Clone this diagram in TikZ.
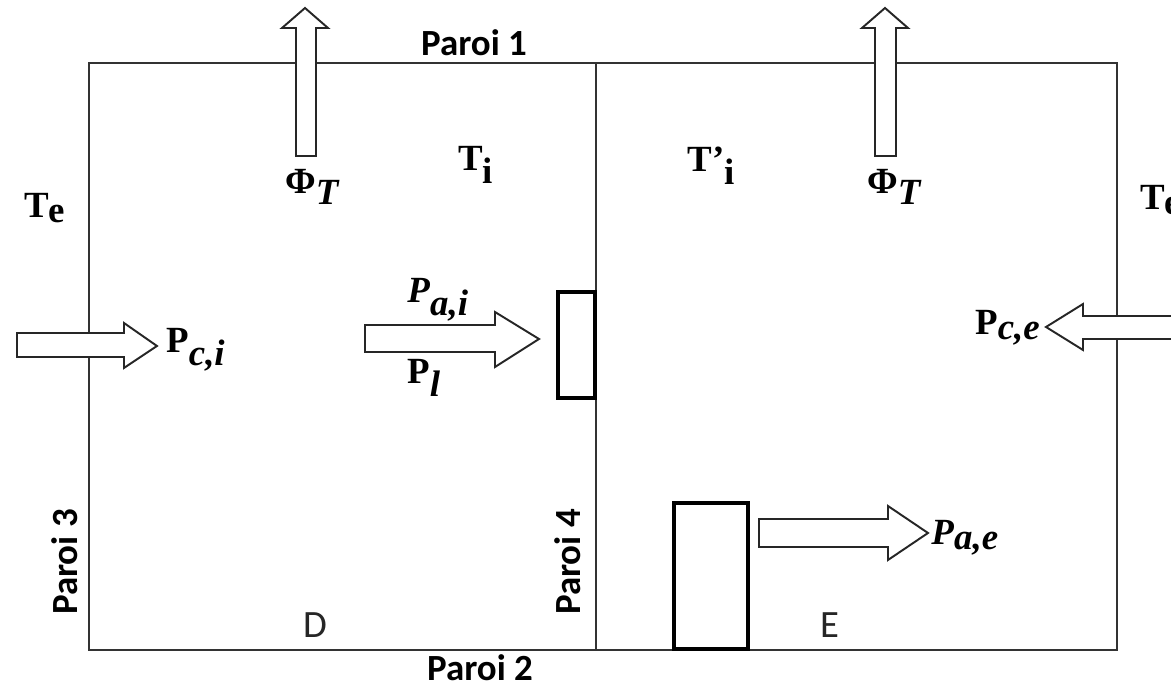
\documentclass[tikz,border=0pt]{standalone}
\usepackage{fontspec}
\setmainfont{Liberation Serif}
\newfontfamily\calib{Carlito}

\tikzset{
  paroi/.style={draw=black!80, line width=1.4pt},
  flux/.style={draw=black!85, fill=white, line width=1.1pt, line join=miter},
  bloc/.style={draw=black, fill=white, line width=1.8pt},
  nomparoi/.style={font=\calib\bfseries\fontsize{21}{24}\selectfont, inner sep=0pt},
  zone/.style={font=\calib\fontsize{22}{26}\selectfont, text=black!85, inner sep=0pt},
  grandeur/.style={font=\bfseries\fontsize{21}{24}\selectfont, inner sep=0pt}
}

\begin{document}
\begin{tikzpicture}[
  x=0.02cm,
  y=-0.02cm
]
\clip (0,0) rectangle (1171,688);

% murs
\draw[paroi] (89,63) rectangle (1117,650);
\draw[paroi] (596,63) -- (596,650);

% flux Phi_T
\draw[flux] (296,156) -- (296,28) -- (282,28) -- (305,8) -- (328,28) -- (316,28) -- (316,156) -- cycle;
\draw[flux] (875,156) -- (875,28) -- (862,28) -- (885,8) -- (908,28) -- (896,28) -- (896,156) -- cycle;

% P_c,i et P_c,e
\draw[flux] (17,333) -- (124,333) -- (124,323) -- (157,346) -- (124,368) -- (124,357) -- (17,357) -- cycle;
\draw[flux] (1180,316) -- (1083,316) -- (1083,304) -- (1046,327) -- (1083,350) -- (1083,339) -- (1180,339);

% P_a,i et P_a,e
\draw[flux] (365,325) -- (495,325) -- (495,312) -- (539,339) -- (495,367) -- (495,352) -- (365,352) -- cycle;
\draw[flux] (759,519) -- (888,519) -- (888,506) -- (928,533) -- (888,560) -- (888,547) -- (759,547) -- cycle;

% appareils
\draw[bloc] (558,292) rectangle (595,398);
\draw[bloc] (674,503) rectangle (748,649);

% noms des parois
\node[nomparoi] (paroi1) at (474,43) {Paroi 1};
\node[nomparoi] (paroi2) at (480,668) {Paroi 2};
\node[nomparoi, rotate=90] (paroi3) at (65,562) {Paroi 3};
\node[nomparoi, rotate=90] (paroi4) at (568,562) {Paroi 4};

% zones
\node[zone] (zoneD) at (315,625) {D};
\node[zone] (zoneE) at (830,625) {E};

% temperatures
\node[grandeur] (TeG) at (45,208) {T$_{\textbf{e}}$};
\node[grandeur, anchor=west] (TeD) at (1140,200) {T$_{\textbf{e}}$};
\node[grandeur] (Ti) at (476,165) {T$_{\textbf{i}}$};
\node[grandeur] (Tpi) at (712,166) {T’$_{\textbf{i}}$};

% puissances
\node[grandeur] (phiG) at (313,187) {Φ$_{\textbf{\textit{T}}}$};
\node[grandeur] (phiD) at (895,187) {Φ$_{\textbf{\textit{T}}}$};
\node[grandeur, anchor=west] (Pci) at (166,350) {P$_{\textbf{\textit{c,i}}}$};
\node[grandeur, anchor=east] (Pce) at (1041,328) {P$_{\textbf{\textit{c,e}}}$};
\node[grandeur, anchor=west] (Pai) at (407,300) {\textit{P}$_{\textbf{\textit{a,i}}}$};
\node[grandeur, anchor=west] (Pl) at (407,378) {P$_{\textbf{\textit{l}}}$};
\node[grandeur, anchor=west] (Pae) at (931,538) {\textit{P}$_{\textbf{\textit{a,e}}}$};
\end{tikzpicture}
\end{document}
